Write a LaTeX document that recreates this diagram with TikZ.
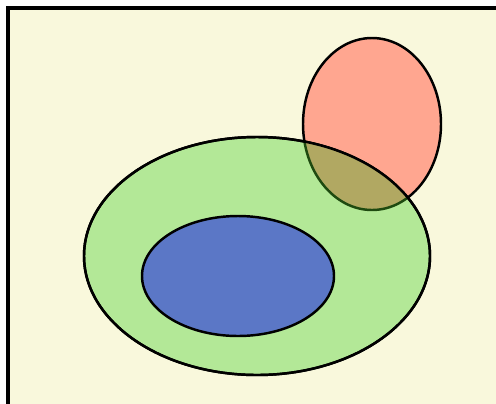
\documentclass[tikz,border=0pt]{standalone}
\usepackage{xcolor}
\definecolor{paperyellow}{RGB}{249, 248, 220}
\definecolor{setgreen}{RGB}{179, 232, 151}
\definecolor{setred}{RGB}{255, 166, 144}
\definecolor{setblue}{RGB}{91, 119, 198}
\definecolor{overlapolive}{RGB}{177, 168, 98}
\definecolor{overlapedge}{RGB}{30, 74, 16}
\tikzset{
    % Frame of the sheet
    frame/.style={
        draw=black,
        line width=2.3pt,
        fill=paperyellow,
    },
    % Set outlines
    setedge/.style={
        draw=black,
        line width=1.4pt,
    },
    greenset/.style={setedge, fill=setgreen},
    redset/.style={setedge, fill=setred},
    blueset/.style={setedge, fill=setblue},
}

\begin{document}
\begin{tikzpicture}[x=0.02cm, y=-0.02cm]

% Page size
\useasboundingbox (0,0) rectangle (496,403);
\clip (0,0) rectangle (496,403);

% --- Background sheet ---
\draw[frame] (8,8) rectangle (520,430);

% --- Sets ---
\path[redset] (372,124) ellipse [x radius=69, y radius=86];
\path[greenset] (257,256) ellipse [x radius=173, y radius=119];

% --- Overlap of red and green ---
\begin{scope}
    \clip (257,256) ellipse [x radius=173, y radius=119];
    \fill[overlapolive] (372,124) ellipse [x radius=69, y radius=86];
    \draw[overlapedge, line width=1.4pt] (372,124) ellipse [x radius=69, y radius=86];
\end{scope}
\draw[setedge] (257,256) ellipse [x radius=173, y radius=119];

% --- Inner set ---
\path[blueset] (238,276) ellipse [x radius=96, y radius=60];

\end{tikzpicture}
\end{document}
